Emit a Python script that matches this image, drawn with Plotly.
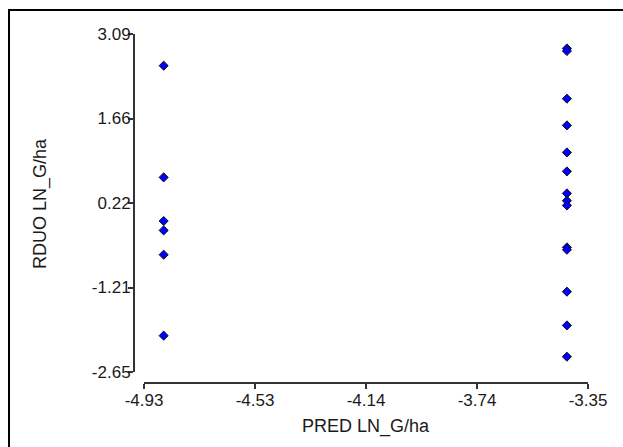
import plotly.graph_objects as go

# ---- data ----
x_left = -4.860
x_right = -3.425
y_left = [2.552, 0.655, -0.086, -0.245, -0.658, -2.033]
y_right = [2.845, 2.801, 1.991, 1.538, 1.079, 0.757, 0.383, 0.259, 0.179,
           -0.534, -0.573, -1.286, -1.859, -2.390]

x_vals = [x_left] * len(y_left) + [x_right] * len(y_right)
y_vals = y_left + y_right

x_ticks = [-4.93, -4.535, -4.14, -3.745, -3.35]
x_ticktext = ["-4.93", "-4.53", "-4.14", "-3.74", "-3.35"]
y_ticks = [3.09, 1.655, 0.22, -1.215, -2.65]
y_ticktext = ["3.09", "1.66", "0.22", "-1.21", "-2.65"]

x_title = "PRED LN_G/ha"
y_title = "RDUO LN_G/ha"

W, H = 623, 447
FONT = "Liberation Sans, Arial, sans-serif"
TXT = "#1a1a1a"

fig = go.Figure()
fig.add_trace(go.Scatter(
    x=x_vals, y=y_vals, mode="markers",
    marker=dict(symbol="diamond", size=7, color="#0000FF",
                line=dict(color="#101010", width=1)),
    showlegend=False,
))

# plot area in pixels: y-axis line at x=134, x-axis line at y=383
L, R, T, B = 134, 35, 34, 64
pw = W - L - R
ph = H - T - B

axis_common = dict(
    showline=True, linecolor="#333333", linewidth=2,
    ticks="outside", ticklen=5, tickwidth=2, tickcolor="#333333",
    showgrid=False, zeroline=False,
    tickfont=dict(family=FONT, size=17, color=TXT),
)

fig.update_layout(
    width=W, height=H,
    margin=dict(l=L, r=R, t=T, b=B, autoexpand=False),
    paper_bgcolor="white", plot_bgcolor="white",
    xaxis=dict(
        domain=[(144 - L) / pw, 1], range=[-4.93, -3.35],
        tickmode="array", tickvals=x_ticks, ticktext=x_ticktext,
        anchor="free", position=0, ticklabelstandoff=-3,
        **axis_common,
    ),
    yaxis=dict(
        domain=[(H - B - 372) / ph, 1], range=[-2.65, 3.09],
        tickmode="array", tickvals=y_ticks, ticktext=y_ticktext,
        anchor="free", position=0, ticklabelstandoff=-6,
        **axis_common,
    ),
    annotations=[
        dict(text=x_title, xref="paper", yref="paper",
             x=(366 - L) / pw, y=(H - B - 426) / ph,
             xanchor="center", yanchor="middle", showarrow=False,
             font=dict(family=FONT, size=18, color=TXT)),
        dict(text=y_title, xref="paper", yref="paper",
             x=(40 - L) / pw, y=(H - B - 204) / ph, textangle=-90,
             xanchor="center", yanchor="middle", showarrow=False,
             font=dict(family=FONT, size=18, color=TXT)),
    ],
    shapes=[
        dict(type="line", xref="paper", yref="paper",
             x0=(9 - L) / pw, x1=(W + 5 - L) / pw,
             y0=(H - 10 - B) / ph, y1=(H - 10 - B) / ph,
             line=dict(color="#000000", width=2)),
        dict(type="line", xref="paper", yref="paper",
             x0=(9 - L) / pw, x1=(9 - L) / pw,
             y0=(H - 9 - B) / ph, y1=(-10 - B) / ph,
             line=dict(color="#000000", width=2)),
    ],
)

fig.write_html("out.html")
